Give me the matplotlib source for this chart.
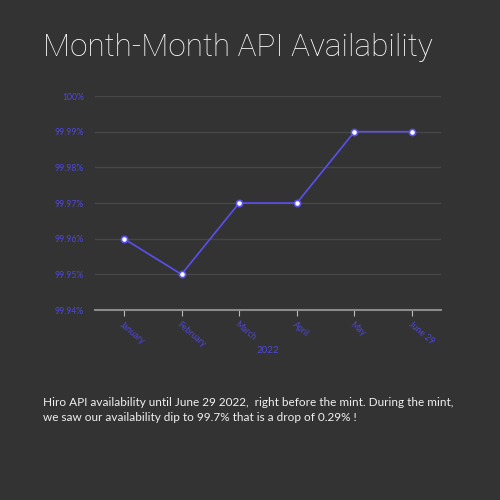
import matplotlib.pyplot as plt

months = ['January', 'February', 'March', 'April', 'May', 'June 29']
availability = [99.96, 99.95, 99.97, 99.97, 99.99, 99.99]
yticks = [99.94, 99.95, 99.96, 99.97, 99.98, 99.99, 100.0]
ytick_labels = ['99.94%', '99.95%', '99.96%', '99.97%', '99.98%', '99.99%', '100%']

bg = '#333333'
purple = '#5a4ff0'
label_col = '#5046dc'

plt.rcParams['font.family'] = ['Lato', 'DejaVu Sans']

fig = plt.figure(figsize=(5, 5), dpi=100, facecolor=bg)
ax = fig.add_axes([95 / 500, 1 - 310 / 500, 346 / 500, 214 / 500])
ax.set_facecolor(bg)

x = list(range(len(months)))
ax.plot(x, availability, color=purple, lw=1.2, marker='o', ms=4.5,
        markerfacecolor='white', markeredgecolor=purple, markeredgewidth=1.2, zorder=3)

ax.set_xlim(-0.5, len(months) - 0.5)
ax.set_ylim(99.94, 100.0)
ax.set_yticks(yticks)
ax.set_yticklabels(ytick_labels)
ax.set_xticks(x)
ax.set_xticklabels(months, rotation=-40, ha='left', va='top', rotation_mode='anchor')

# grid lines
ax.grid(axis='y', color='#474747', lw=1)
ax.set_axisbelow(True)
for s in ['top', 'right', 'left']:
    ax.spines[s].set_visible(False)
ax.spines['bottom'].set_color('#8a8a8a')
ax.spines['bottom'].set_linewidth(1.5)

ax.tick_params(axis='y', length=0, labelsize=6.2, labelcolor=label_col, pad=8)
ax.tick_params(axis='x', length=4, color='#bbbbbb', labelsize=6.2, labelcolor=label_col, pad=3)
ax.set_xlabel('2022', color=label_col, fontsize=7, va='center')
ax.xaxis.set_label_coords(0.5, -0.187)

fig.text(43 / 500, 1 - 48 / 500, 'Month-Month API Availability', color='white',
         fontsize=22.7, va='center', ha='left', family=['Roboto', 'DejaVu Sans'],
         fontweight='light')

fig.text(43 / 500, 1 - 410 / 500,
         'Hiro API availability until June 29 2022,  right before the mint. During the mint,\n'
         'we saw our availability dip to 99.7% that is a drop of 0.29% !',
         color='#f0f0f0', fontsize=8.5, va='center', ha='left', linespacing=1.35)

fig.savefig('out.png', dpi=100, facecolor=bg)
